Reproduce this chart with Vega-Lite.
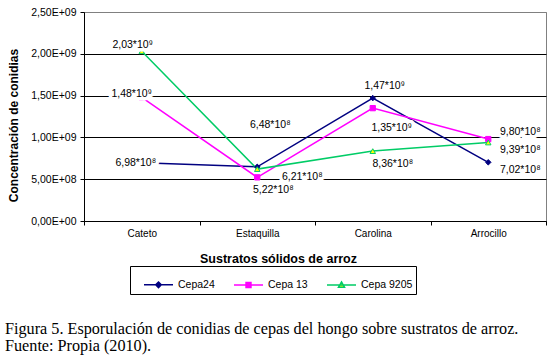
{
  "$schema": "https://vega.github.io/schema/vega-lite/v6.json",
  "width": 462,
  "height": 209,
  "autosize": {"type": "none"},
  "padding": {"left": 84, "top": 12, "right": 9, "bottom": 137},
  "background": "white",
  "config": {
    "view": {"stroke": "#808080", "strokeWidth": 1},
    "font": "Liberation Sans",
    "axis": {"labelFont": "Liberation Sans", "titleFont": "Liberation Sans", "labelColor": "black", "titleColor": "black"},
    "text": {"font": "Liberation Sans"}
  },
  "title": {
    "text": ["Figura 5. Esporulación de conidias  de cepas del hongo  sobre sustratos de arroz.", "Fuente: Propia (2010)."],
    "orient": "bottom",
    "anchor": "start",
    "frame": "group",
    "font": "Liberation Serif",
    "fontSize": 16.2,
    "fontWeight": "normal",
    "color": "black",
    "lineHeight": 17,
    "dx": -79,
    "offset": 26
  },
  "data": {
    "values": [
      {"cepa": "Cepa24", "sustrato": "Cateto", "valor": 698000000, "etiqueta": "6,98*10⁸"},
      {"cepa": "Cepa24", "sustrato": "Estaquilla", "valor": 648000000, "etiqueta": "6,48*10⁸"},
      {"cepa": "Cepa24", "sustrato": "Carolina", "valor": 1470000000, "etiqueta": "1,47*10⁹"},
      {"cepa": "Cepa24", "sustrato": "Arrocillo", "valor": 702000000, "etiqueta": "7,02*10⁸"},
      {"cepa": "Cepa 13", "sustrato": "Cateto", "valor": 1480000000, "etiqueta": "1,48*10⁹"},
      {"cepa": "Cepa 13", "sustrato": "Estaquilla", "valor": 522000000, "etiqueta": "5,22*10⁸"},
      {"cepa": "Cepa 13", "sustrato": "Carolina", "valor": 1350000000, "etiqueta": "1,35*10⁹"},
      {"cepa": "Cepa 13", "sustrato": "Arrocillo", "valor": 980000000, "etiqueta": "9,80*10⁸"},
      {"cepa": "Cepa 9205", "sustrato": "Cateto", "valor": 2030000000, "etiqueta": "2,03*10⁹"},
      {"cepa": "Cepa 9205", "sustrato": "Estaquilla", "valor": 621000000, "etiqueta": "6,21*10⁸"},
      {"cepa": "Cepa 9205", "sustrato": "Carolina", "valor": 836000000, "etiqueta": "8,36*10⁸"},
      {"cepa": "Cepa 9205", "sustrato": "Arrocillo", "valor": 939000000, "etiqueta": "9,39*10⁸"}
    ]
  },
  "encoding": {
    "x": {
      "field": "sustrato", "type": "nominal",
      "sort": ["Cateto", "Estaquilla", "Carolina", "Arrocillo"],
      "scale": {"type": "band", "paddingInner": 0, "paddingOuter": 0},
      "axis": {
        "title": "Sustratos sólidos de arroz",
        "titleFontSize": 12.5, "titleFontWeight": "bold",
        "titleX": 194, "titleY": 37, "titleAlign": "center", "titleBaseline": "middle",
        "labelFontSize": 10, "labelAngle": 0, "labelPadding": 3,
        "domainColor": "black", "tickColor": "black", "tickSize": 4, "tickBand": "extent",
        "grid": false
      }
    },
    "y": {
      "field": "valor", "type": "quantitative",
      "scale": {"domain": [0, 2500000000], "nice": false},
      "axis": {
        "title": "Concentración  de conidias",
        "titleFontSize": 12, "titleFontWeight": "bold",
        "titleX": -71, "titleY": 113, "titleAlign": "center", "titleBaseline": "middle",
        "values": [0, 500000000, 1000000000, 1500000000, 2000000000, 2500000000],
        "labelExpr": "datum.value == 0 ? '0,00E+00' : datum.value < 1000000000 ? replace(format(datum.value / 100000000, '.2f'), '.', ',') + 'E+08' : replace(format(datum.value / 1000000000, '.2f'), '.', ',') + 'E+09'",
        "labelFontSize": 10.5, "labelPadding": 4,
        "domainColor": "black", "tickColor": "black", "tickSize": 4,
        "grid": true,
        "gridColor": {"condition": {"test": "datum.value === 2500000000", "value": "#808080"}, "value": "black"},
        "gridOpacity": 1
      }
    }
  },
  "layer": [
    {
      "mark": {"type": "line", "strokeWidth": 1.5},
      "encoding": {
        "order": {"value": null},
        "color": {
          "field": "cepa", "type": "nominal",
          "scale": {"domain": ["Cepa24", "Cepa 13", "Cepa 9205"], "range": ["#000080", "#ff00ff", "#00cc66"]},
          "legend": {
            "orient": "none", "legendX": 46, "legendY": 254,
            "direction": "horizontal",
            "title": " ", "titleOrient": "left", "titlePadding": 10, "titleFontSize": 10,
            "strokeColor": "black", "fillColor": "white", "padding": 3,
            "symbolSize": 841, "symbolStrokeWidth": 1.5,
            "labelFontSize": 10.5, "labelFont": "Liberation Sans", "labelColor": "black",
            "labelOffset": 4, "columnPadding": 16,
            "encode": {
              "symbols": {
                "update": {
                  "shape": {"signal": "datum.value === 'Cepa24' ? 'M-1,0H1M0,-0.19L0.19,0L0,0.19L-0.19,0Z' : datum.value === 'Cepa 13' ? 'M-1,0H1M-0.17,-0.17H0.17V0.17H-0.17Z' : 'M-1,0H1M0,-0.21L0.21,0.16L-0.21,0.16Z'"},
                  "fill": {"signal": "datum.value === 'Cepa24' ? '#000080' : datum.value === 'Cepa 13' ? '#ff00ff' : '#ffff00'"},
                  "stroke": {"signal": "datum.value === 'Cepa24' ? '#000080' : datum.value === 'Cepa 13' ? '#ff00ff' : '#00cc66'"},
                  "opacity": {"value": 1}
                }
              }
            }
          }
        }
      }
    },
    {
      "transform": [{"filter": "datum.cepa === 'Cepa24'"}],
      "mark": {"type": "point", "shape": "diamond", "filled": true, "size": 30, "fill": "#000080", "stroke": "#000080", "strokeWidth": 1, "opacity": 1}
    },
    {
      "transform": [{"filter": "datum.cepa === 'Cepa 13'"}],
      "mark": {"type": "point", "shape": "square", "filled": true, "size": 28, "fill": "#ff00ff", "stroke": "#ff00ff", "strokeWidth": 1, "opacity": 1}
    },
    {
      "transform": [{"filter": "datum.cepa === 'Cepa 9205'"}],
      "mark": {"type": "point", "shape": "triangle-up", "filled": true, "size": 30, "fill": "#ffff00", "stroke": "#00cc66", "strokeWidth": 1, "opacity": 1}
    },
    {"transform": [{"filter": "datum.cepa === 'Cepa24' && datum.sustrato === 'Cateto'"}], "encoding": {"text": {"field": "etiqueta"}},
     "layer": [{"mark": {"type": "text", "dx": -6, "dy": 0, "fontSize": 10.5, "fill": "white", "stroke": "white", "strokeWidth": 7}}, {"mark": {"type": "text", "dx": -6, "dy": 0, "fontSize": 10.5, "color": "black"}}]},
    {"transform": [{"filter": "datum.cepa === 'Cepa24' && datum.sustrato === 'Estaquilla'"}], "encoding": {"text": {"field": "etiqueta"}},
     "layer": [{"mark": {"type": "text", "dx": 13, "dy": -42, "fontSize": 10.5, "fill": "white", "stroke": "white", "strokeWidth": 7}}, {"mark": {"type": "text", "dx": 13, "dy": -42, "fontSize": 10.5, "color": "black"}}]},
    {"transform": [{"filter": "datum.cepa === 'Cepa24' && datum.sustrato === 'Carolina'"}], "encoding": {"text": {"field": "etiqueta"}},
     "layer": [{"mark": {"type": "text", "dx": 12, "dy": -12, "fontSize": 10.5, "fill": "white", "stroke": "white", "strokeWidth": 7}}, {"mark": {"type": "text", "dx": 12, "dy": -12, "fontSize": 10.5, "color": "black"}}]},
    {"transform": [{"filter": "datum.cepa === 'Cepa24' && datum.sustrato === 'Arrocillo'"}], "encoding": {"text": {"field": "etiqueta"}},
     "layer": [{"mark": {"type": "text", "dx": 32, "dy": 8, "fontSize": 10.5, "fill": "white", "stroke": "white", "strokeWidth": 7}}, {"mark": {"type": "text", "dx": 32, "dy": 8, "fontSize": 10.5, "color": "black"}}]},
    {"transform": [{"filter": "datum.cepa === 'Cepa 13' && datum.sustrato === 'Cateto'"}], "encoding": {"text": {"field": "etiqueta"}},
     "layer": [{"mark": {"type": "text", "dx": -10, "dy": -3, "fontSize": 10.5, "fill": "white", "stroke": "white", "strokeWidth": 7}}, {"mark": {"type": "text", "dx": -10, "dy": -3, "fontSize": 10.5, "color": "black"}}]},
    {"transform": [{"filter": "datum.cepa === 'Cepa 13' && datum.sustrato === 'Estaquilla'"}], "encoding": {"text": {"field": "etiqueta"}},
     "layer": [{"mark": {"type": "text", "dx": 16, "dy": 13, "fontSize": 10.5, "fill": "white", "stroke": "white", "strokeWidth": 7}}, {"mark": {"type": "text", "dx": 16, "dy": 13, "fontSize": 10.5, "color": "black"}}]},
    {"transform": [{"filter": "datum.cepa === 'Cepa 13' && datum.sustrato === 'Carolina'"}], "encoding": {"text": {"field": "etiqueta"}},
     "layer": [{"mark": {"type": "text", "dx": 19, "dy": 20, "fontSize": 10.5, "fill": "white", "stroke": "white", "strokeWidth": 7}}, {"mark": {"type": "text", "dx": 19, "dy": 20, "fontSize": 10.5, "color": "black"}}]},
    {"transform": [{"filter": "datum.cepa === 'Cepa 13' && datum.sustrato === 'Arrocillo'"}], "encoding": {"text": {"field": "etiqueta"}},
     "layer": [{"mark": {"type": "text", "dx": 32, "dy": -7, "fontSize": 10.5, "fill": "white", "stroke": "white", "strokeWidth": 7}}, {"mark": {"type": "text", "dx": 32, "dy": -7, "fontSize": 10.5, "color": "black"}}]},
    {"transform": [{"filter": "datum.cepa === 'Cepa 9205' && datum.sustrato === 'Cateto'"}], "encoding": {"text": {"field": "etiqueta"}},
     "layer": [{"mark": {"type": "text", "dx": -9, "dy": -6, "fontSize": 10.5, "fill": "white", "stroke": "white", "strokeWidth": 7}}, {"mark": {"type": "text", "dx": -9, "dy": -6, "fontSize": 10.5, "color": "black"}}]},
    {"transform": [{"filter": "datum.cepa === 'Cepa 9205' && datum.sustrato === 'Estaquilla'"}], "encoding": {"text": {"field": "etiqueta"}},
     "layer": [{"mark": {"type": "text", "dx": 45, "dy": 8, "fontSize": 10.5, "fill": "white", "stroke": "white", "strokeWidth": 7}}, {"mark": {"type": "text", "dx": 45, "dy": 8, "fontSize": 10.5, "color": "black"}}]},
    {"transform": [{"filter": "datum.cepa === 'Cepa 9205' && datum.sustrato === 'Carolina'"}], "encoding": {"text": {"field": "etiqueta"}},
     "layer": [{"mark": {"type": "text", "dx": 20, "dy": 13, "fontSize": 10.5, "fill": "white", "stroke": "white", "strokeWidth": 7}}, {"mark": {"type": "text", "dx": 20, "dy": 13, "fontSize": 10.5, "color": "black"}}]},
    {"transform": [{"filter": "datum.cepa === 'Cepa 9205' && datum.sustrato === 'Arrocillo'"}], "encoding": {"text": {"field": "etiqueta"}},
     "layer": [{"mark": {"type": "text", "dx": 32, "dy": 8, "fontSize": 10.5, "fill": "white", "stroke": "white", "strokeWidth": 7}}, {"mark": {"type": "text", "dx": 32, "dy": 8, "fontSize": 10.5, "color": "black"}}]}
  ]
}
